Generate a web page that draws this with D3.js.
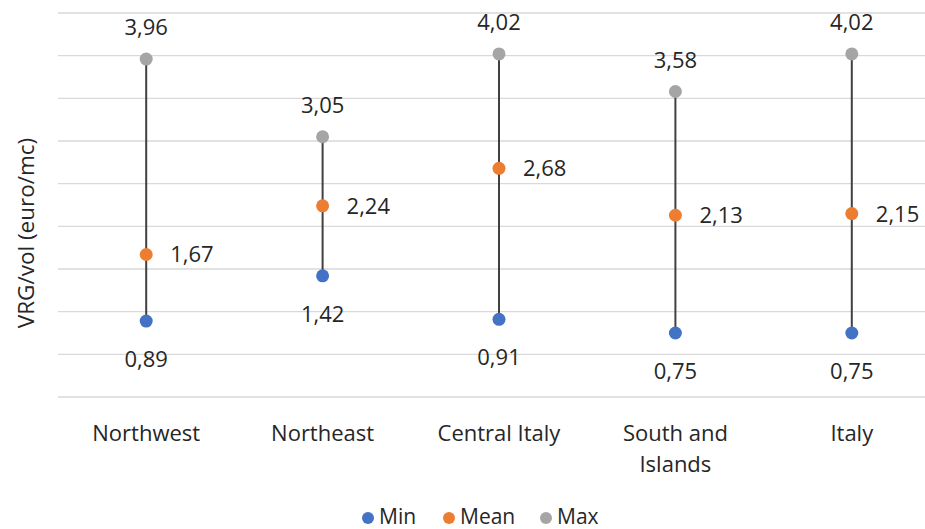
<!DOCTYPE html>
<html><head><meta charset="utf-8">
<script src="https://cdn.jsdelivr.net/npm/d3@7"></script>
<style>body{margin:0;background:#fff;} svg{display:block;font-family:"Open Sans",sans-serif;}</style>
</head><body><svg id="c" width="925" height="529"></svg>
<script>
const categories = ["Northwest","Northeast","Central Italy","South and Islands","Italy"];
const categoryLines = [["Northwest"],["Northeast"],["Central Italy"],["South and","Islands"],["Italy"]];
const minValues = [0.89,1.42,0.91,0.75,0.75];
const meanValues = [1.67,2.24,2.68,2.13,2.15];
const maxValues = [3.96,3.05,4.02,3.58,4.02];
const yTicks = [0,0.5,1,1.5,2,2.5,3,3.5,4,4.5];
const seriesNames = ["Min","Mean","Max"];
const colors = {Min:"#4472C4",Mean:"#ED7D31",Max:"#A5A5A5"};

const svg = d3.select("#c");
const x = d3.scaleBand().domain(categories).range([58,940]);
const y = d3.scaleLinear().domain([0,4.5]).range([397,13]);
const fmt = v => d3.format(".2f")(v).replace(".",",");
const fs = 22;
const txt = "#262626";

svg.append("g").selectAll("line").data(yTicks).join("line")
  .attr("x1",58).attr("x2",925).attr("y1",d=>y(d)).attr("y2",d=>y(d))
  .attr("stroke","#d9d9d9").attr("stroke-width",1.3);

const data = categories.map((c,i)=>({c,min:minValues[i],mean:meanValues[i],max:maxValues[i],lines:categoryLines[i]}));
const cx = d => x(d.c)+x.bandwidth()/2;

svg.append("g").selectAll("line").data(data).join("line")
  .attr("x1",cx).attr("x2",cx).attr("y1",d=>y(d.min)).attr("y2",d=>y(d.max))
  .attr("stroke","#404040").attr("stroke-width",2);

const r = 6.5;
svg.append("g").selectAll("circle").data(data).join("circle")
  .attr("cx",cx).attr("cy",d=>y(d.min)).attr("r",r).attr("fill",colors.Min);
svg.append("g").selectAll("circle").data(data).join("circle")
  .attr("cx",cx).attr("cy",d=>y(d.mean)).attr("r",r).attr("fill",colors.Mean);
svg.append("g").selectAll("circle").data(data).join("circle")
  .attr("cx",cx).attr("cy",d=>y(d.max)).attr("r",r).attr("fill",colors.Max);

const lab = svg.append("g").attr("font-size",fs).attr("fill",txt);
lab.selectAll("text.mx").data(data).join("text").attr("class","mx")
  .attr("x",cx).attr("y",d=>y(d.max)-24).attr("text-anchor","middle").text(d=>fmt(d.max));
lab.selectAll("text.mn").data(data).join("text").attr("class","mn")
  .attr("x",cx).attr("y",d=>y(d.min)+46).attr("text-anchor","middle").text(d=>fmt(d.min));
lab.selectAll("text.me").data(data).join("text").attr("class","me")
  .attr("x",d=>cx(d)+24).attr("y",d=>y(d.mean)+8).attr("text-anchor","start").text(d=>fmt(d.mean));

const cat = svg.append("g").attr("font-size",fs).attr("fill",txt);
data.forEach(d=>{
  const t = cat.append("text").attr("x",cx(d)).attr("y",441).attr("text-anchor","middle");
  d.lines.forEach((l,j)=>t.append("tspan").attr("x",cx(d)).attr("dy",j?31:0).text(l));
});

svg.append("text").attr("transform","translate(34,233) rotate(-90)").attr("text-anchor","middle")
  .attr("font-size",22.5).attr("fill",txt).text("VRG/vol (euro/mc)");

const legX = [368,449,546];
const leg = svg.append("g");
seriesNames.forEach((s,i)=>{
  leg.append("circle").attr("cx",legX[i]).attr("cy",518).attr("r",6).attr("fill",colors[s]);
  leg.append("text").attr("x",legX[i]+11).attr("y",524).attr("font-size",21).attr("fill",txt).text(s);
});
</script></body></html>
